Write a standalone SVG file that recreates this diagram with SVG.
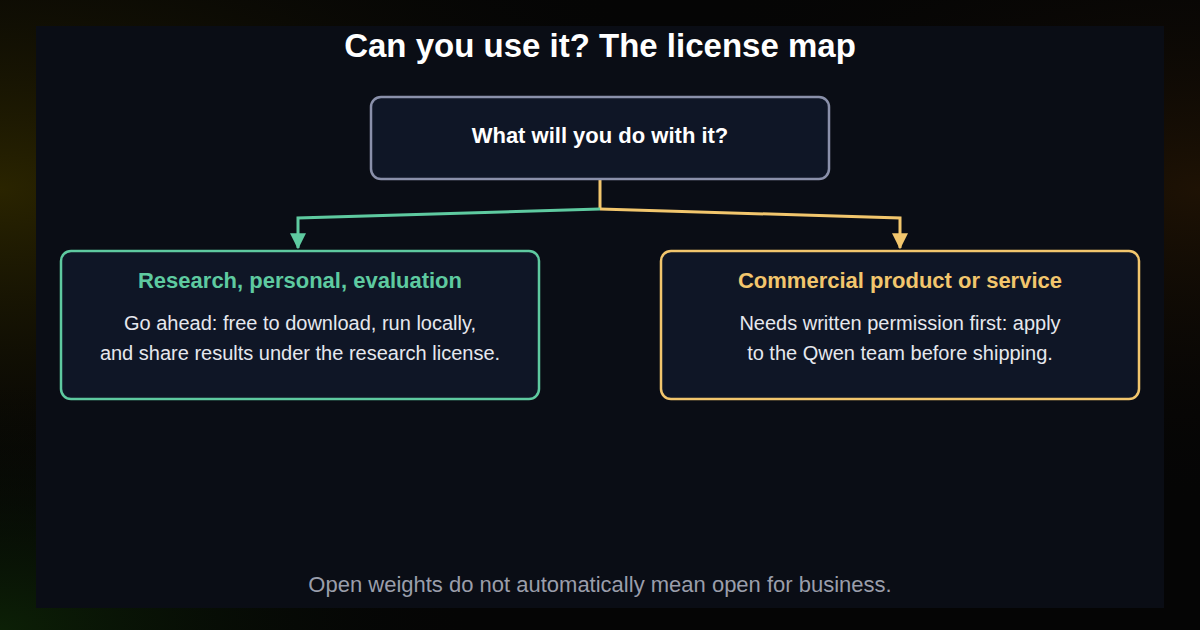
<svg xmlns="http://www.w3.org/2000/svg" width="1200" height="630" viewBox="0 0 1200 630">
<defs>
<radialGradient id="gl" cx="0" cy="0.3" r="0.6"><stop offset="0" stop-color="#2a2400"/><stop offset="1" stop-color="#050505" stop-opacity="0"/></radialGradient>
<radialGradient id="gr" cx="1" cy="0.3" r="0.5"><stop offset="0" stop-color="#1e1204"/><stop offset="1" stop-color="#050505" stop-opacity="0"/></radialGradient>
<radialGradient id="gb" cx="0" cy="1" r="0.4"><stop offset="0" stop-color="#0c2006"/><stop offset="1" stop-color="#050505" stop-opacity="0"/></radialGradient>
<marker id="ag" viewBox="0 0 12 12" refX="11" refY="6" markerWidth="16" markerHeight="16" markerUnits="userSpaceOnUse" orient="auto"><path d="M0,0 L12,6 L0,12 Z" fill="#5ecaa0"/></marker>
<marker id="ay" viewBox="0 0 12 12" refX="11" refY="6" markerWidth="16" markerHeight="16" markerUnits="userSpaceOnUse" orient="auto"><path d="M0,0 L12,6 L0,12 Z" fill="#f2c66d"/></marker>
</defs>
<style>
text{font-family:"Liberation Sans",Arial,sans-serif;text-anchor:middle}
.box{fill:#0f1626;stroke-width:2.5}
.body{fill:#e6e8ee;font-size:20px}
.h{font-size:22px;font-weight:bold}
</style>
<rect width="1200" height="630" fill="#050505"/>
<rect width="1200" height="630" fill="url(#gl)"/>
<rect width="1200" height="630" fill="url(#gr)"/>
<rect width="1200" height="630" fill="url(#gb)"/>
<rect x="36" y="26" width="1128" height="582" fill="#0a0d15"/>
<text x="600" y="57" font-size="33" font-weight="bold" fill="#ffffff">Can you use it? The license map</text>
<g id="connectors" fill="none" stroke-width="3">
<path d="M600,180 V209" stroke="#f2c66d"/>
<path d="M600,209 L298,218 V248" stroke="#5ecaa0" marker-end="url(#ag)"/>
<path d="M600,209 L900,218 V248" stroke="#f2c66d" marker-end="url(#ay)"/>
</g>
<g id="q">
<rect class="box" x="371" y="97" width="458" height="82" rx="10" stroke="#8a90aa"/>
<text x="600" y="143" font-size="22" font-weight="bold" fill="#ffffff">What will you do with it?</text>
</g>
<g id="research">
<rect class="box" x="61" y="251" width="478" height="148" rx="10" stroke="#5ecaa0"/>
<text class="h" x="300" y="288" fill="#5ecaa0">Research, personal, evaluation</text>
<text class="body" x="300" y="330">Go ahead: free to download, run locally,</text>
<text class="body" x="300" y="360">and share results under the research license.</text>
</g>
<g id="commercial">
<rect class="box" x="661" y="251" width="478" height="148" rx="10" stroke="#f2c66d"/>
<text class="h" x="900" y="288" fill="#f2c66d">Commercial product or service</text>
<text class="body" x="900" y="330">Needs written permission first: apply</text>
<text class="body" x="900" y="360">to the Qwen team before shipping.</text>
</g>
<text x="600" y="592" font-size="22" fill="#9a9eab">Open weights do not automatically mean open for business.</text>
</svg>
